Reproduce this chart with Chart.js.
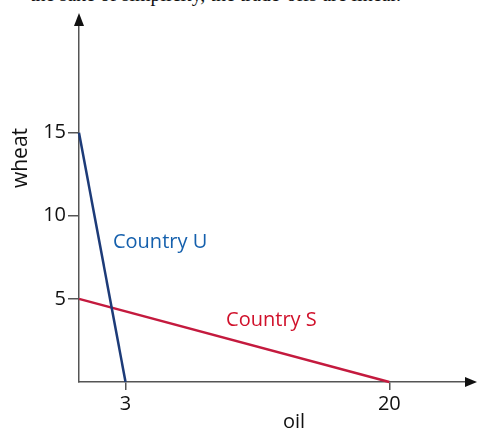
<!DOCTYPE html>
<html>
<head>
<meta charset="utf-8">
<script src="https://cdn.jsdelivr.net/npm/chart.js@4.4.1/dist/chart.umd.min.js"></script>
<style>
    html, body { margin: 0; padding: 0; background: #fff; }
    #wrap { position: relative; width: 478px; height: 428px; overflow: hidden; }
    #cut { position: absolute; left: 30px; top: -16px; font: 20px/20px "Liberation Serif", serif; color: #111; white-space: nowrap; }
    canvas { position: absolute; left: 0; top: 0; }
</style>
</head>
<body>
<div id="wrap">
    <div id="cut">the sake of simplicity, the trade-offs are linear.</div>
    <canvas id="ppf" width="478" height="428"></canvas>
</div>
<script>
// production possibilities (oil, wheat)
const uOil = [0, 3];
const uWheat = [15, 0];
const sOil = [0, 20];
const sWheat = [5, 0];
const xTicks = [3, 20];
const yTicks = [5, 10, 15];
const labels = ['Country U', 'Country S'];

const axisColor = '#555';
const tickFont = { family: '"Open Sans", sans-serif', size: 20 };

function toPoints(xs, ys) {
    return xs.map((x, i) => ({ x: x, y: ys[i] }));
}

// arrows, axis names and country labels
const extras = {
    id: 'extras',
    afterDraw(chart) {
        const ctx = chart.ctx;
        const a = chart.chartArea;
        const xs = chart.scales.x, ys = chart.scales.y;
        ctx.save();
        ctx.fillStyle = '#111';
        // y arrow
        ctx.beginPath();
        ctx.moveTo(a.left, 13);
        ctx.lineTo(a.left - 5, 26);
        ctx.lineTo(a.left + 5, 26);
        ctx.closePath();
        ctx.fill();
        // x arrow
        ctx.beginPath();
        ctx.moveTo(477, a.bottom);
        ctx.lineTo(465, a.bottom - 5);
        ctx.lineTo(465, a.bottom + 5);
        ctx.closePath();
        ctx.fill();

        ctx.fillStyle = '#111';
        ctx.textAlign = 'center';
        ctx.textBaseline = 'alphabetic';
        ctx.font = '20px "Open Sans", sans-serif';
        ctx.fillText('oil', 294, 428);
        ctx.save();
        ctx.font = '21px "Open Sans", sans-serif';
        ctx.translate(27, 158);
        ctx.rotate(-Math.PI / 2);
        ctx.fillText('wheat', 0, 0);
        ctx.restore();

        ctx.font = '20px "Open Sans", sans-serif';
        ctx.textAlign = 'left';
        ctx.textBaseline = 'middle';
        ctx.fillStyle = '#1560ad';
        ctx.fillText(labels[0], xs.getPixelForValue(2.19), ys.getPixelForValue(8.43));
        ctx.fillStyle = '#d0112b';
        ctx.fillText(labels[1], xs.getPixelForValue(9.48), ys.getPixelForValue(3.73));
        ctx.restore();
    }
};

new Chart(document.getElementById('ppf'), {
    type: 'scatter',
    data: {
        datasets: [{
            label: labels[0],
            data: toPoints(uOil, uWheat),
            showLine: true,
            borderColor: '#1d3b78',
            borderWidth: 2.5,
            pointRadius: 0,
            clip: false
        }, {
            label: labels[1],
            data: toPoints(sOil, sWheat),
            showLine: true,
            borderColor: '#c41a3e',
            borderWidth: 2.5,
            pointRadius: 0,
            clip: false
        }]
    },
    options: {
        responsive: false,
        animation: false,
        layout: { padding: { top: 18, right: 8, left: 0, bottom: 0 } },
        plugins: { legend: { display: false }, tooltip: { enabled: false } },
        scales: {
            x: {
                type: 'linear',
                min: 0,
                max: 25.2,
                afterFit(scale) { scale.height = 46; },
                afterBuildTicks(scale) { scale.ticks = xTicks.map(v => ({ value: v })); },
                ticks: { font: tickFont, color: '#111', padding: 2, maxRotation: 0 },
                grid: { drawOnChartArea: false, tickLength: 8, color: axisColor, lineWidth: 1.5 },
                border: { color: axisColor, width: 1.5 }
            },
            y: {
                type: 'linear',
                min: 0,
                max: 21.9,
                afterFit(scale) { scale.width = 79; },
                afterBuildTicks(scale) { scale.ticks = yTicks.map(v => ({ value: v })); },
                ticks: { font: tickFont, color: '#111', padding: 2 },
                grid: { drawOnChartArea: false, tickLength: 11, color: axisColor, lineWidth: 1.5 },
                border: { color: axisColor, width: 1.5 }
            }
        }
    },
    plugins: [extras]
});
</script>
</body>
</html>
